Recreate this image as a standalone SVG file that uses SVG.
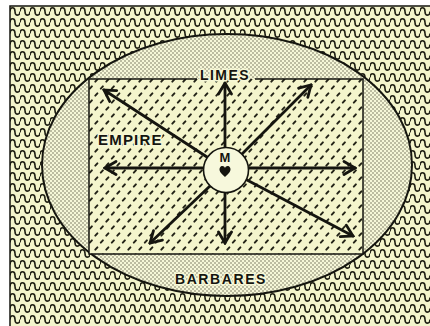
<svg xmlns="http://www.w3.org/2000/svg" width="430" height="326" viewBox="0 0 430 326">
<style>
.lbl{font-family:"Liberation Sans","DejaVu Sans",sans-serif;font-weight:bold;fill:#15150f;paint-order:stroke;stroke:#f6f7d6;stroke-width:3px;stroke-linejoin:round}
.arrow{stroke:#15150f;stroke-width:2.8;fill:none;stroke-linecap:round;marker-end:url(#head)}
</style>
<defs>
<pattern id="waves" patternUnits="userSpaceOnUse" x="10" y="6" width="10" height="11">
<rect width="10" height="11" fill="#f4f5cc"/>
<path d="M0,5.5 C0,0.6 5,0.6 5,5.5 S10,10.4 10,5.5" fill="none" stroke="#222216" stroke-width="1.6"/>
</pattern>
<pattern id="dots" patternUnits="userSpaceOnUse" width="4" height="4">
<rect width="4" height="4" fill="#f6f7d8"/>
<circle cx="1" cy="1" r="0.7" fill="#55553f"/>
<circle cx="3" cy="3" r="0.7" fill="#55553f"/>
</pattern>
<pattern id="plate" patternUnits="userSpaceOnUse" width="11" height="14">
<rect width="11" height="14" fill="#f4f5cc"/>
<path d="M1.8,4.6 L3.9,2.4 M7.3,11.6 L9.4,9.4" stroke="#222216" stroke-width="2" stroke-linecap="round"/>
</pattern>
<marker id="head" viewBox="-13 -9 15 18" markerWidth="15" markerHeight="18" refX="0" refY="0" orient="auto" markerUnits="userSpaceOnUse">
<path d="M-11,-6.5 L0,0 L-11,6.5" fill="none" stroke="#15150f" stroke-width="2.8" stroke-linecap="round" stroke-linejoin="miter"/>
</marker>
</defs>
<rect width="430" height="326" fill="#ffffff"/>
<g id="barbarian-land">
<rect x="10" y="6" width="424" height="324" fill="url(#waves)" stroke="#15150f" stroke-width="1.5"/>
</g>
<g id="frontier-zone">
<ellipse cx="227" cy="165" rx="185" ry="131" fill="url(#dots)" stroke="#15150f" stroke-width="2"/>
</g>
<g id="empire">
<rect x="89" y="79" width="274" height="175" fill="url(#plate)" stroke="none"/>
<path d="M197,79 L89,79 L89,254 L363,254 L363,79 L255,79" fill="none" stroke="#15150f" stroke-width="1.5"/>
</g>
<g id="connectors">
<line class="arrow" x1="225" y1="148" x2="225" y2="83"/>
<line class="arrow" x1="242" y1="154" x2="311" y2="85"/>
<line class="arrow" x1="207" y1="157" x2="104" y2="90"/>
<line class="arrow" x1="203" y1="168" x2="105" y2="168"/>
<line class="arrow" x1="249" y1="168" x2="355" y2="168"/>
<line class="arrow" x1="210" y1="186" x2="150" y2="243"/>
<line class="arrow" x1="225" y1="193" x2="225" y2="243"/>
<line class="arrow" x1="247" y1="180" x2="353" y2="236"/>
</g>
<g id="metropole">
<circle cx="226" cy="170" r="22.5" fill="#f7f8dc" stroke="#15150f" stroke-width="1.6"/>
<text class="lbl" x="225" y="162" font-size="13" text-anchor="middle" style="stroke:none">M</text>
<path d="M225,177 C220.5,173 218.5,170.5 220,167.5 C221.5,165 224.5,166 225,168 C225.5,166 228.5,165 230,167.5 C231.5,170.5 229.5,173 225,177 Z" fill="#15150f"/>
</g>
<g id="labels">
<text class="lbl" x="225" y="80" font-size="14" letter-spacing="1.4" text-anchor="middle">LIMES</text>
<text class="lbl" x="98" y="145" font-size="15" letter-spacing="1.2">EMPIRE</text>
<text class="lbl" x="221" y="284" font-size="14" letter-spacing="1.6" text-anchor="middle">BARBARES</text>
</g>
</svg>
